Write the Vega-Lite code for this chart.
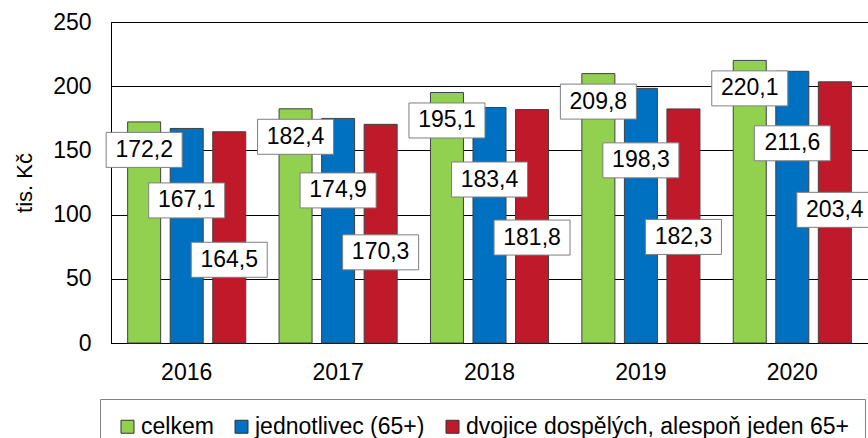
{
  "$schema": "https://vega.github.io/schema/vega-lite/v6.json",
  "autosize": {"type": "none"},
  "width": 757,
  "height": 321,
  "padding": {"left": 111, "top": 22, "right": 0, "bottom": 95},
  "config": {
    "font": "Liberation Sans",
    "locale": {"number": {"decimal": ",", "thousands": " ", "grouping": [3], "currency": ["", " Kč"]}},
    "view": {"stroke": "black", "strokeWidth": 1},
    "axis": {"labelFont": "Liberation Sans", "titleFont": "Liberation Sans", "labelColor": "black", "titleColor": "black"}
  },
  "data": {
    "values": [
      {"year": "2016", "series": "celkem", "value": 172.2},
      {"year": "2016", "series": "jednotlivec (65+)", "value": 167.1},
      {"year": "2016", "series": "dvojice dospělých, alespoň jeden 65+", "value": 164.5},
      {"year": "2017", "series": "celkem", "value": 182.4},
      {"year": "2017", "series": "jednotlivec (65+)", "value": 174.9},
      {"year": "2017", "series": "dvojice dospělých, alespoň jeden 65+", "value": 170.3},
      {"year": "2018", "series": "celkem", "value": 195.1},
      {"year": "2018", "series": "jednotlivec (65+)", "value": 183.4},
      {"year": "2018", "series": "dvojice dospělých, alespoň jeden 65+", "value": 181.8},
      {"year": "2019", "series": "celkem", "value": 209.8},
      {"year": "2019", "series": "jednotlivec (65+)", "value": 198.3},
      {"year": "2019", "series": "dvojice dospělých, alespoň jeden 65+", "value": 182.3},
      {"year": "2020", "series": "celkem", "value": 220.1},
      {"year": "2020", "series": "jednotlivec (65+)", "value": 211.6},
      {"year": "2020", "series": "dvojice dospělých, alespoň jeden 65+", "value": 203.4}
    ]
  },
  "encoding": {
    "x": {
      "field": "year", "type": "nominal",
      "scale": {"paddingInner": 0.22, "paddingOuter": 0.11},
      "axis": {"title": null, "labelAngle": 0, "labelFontSize": 23, "ticks": false, "tickSize": 0, "labelPadding": 18, "domainColor": "black", "domainWidth": 1, "grid": false}
    },
    "xOffset": {
      "field": "series", "type": "nominal",
      "scale": {"domain": ["celkem", "jednotlivec (65+)", "dvojice dospělých, alespoň jeden 65+"], "paddingInner": 0.224, "paddingOuter": 0}
    },
    "y": {
      "field": "value", "type": "quantitative",
      "scale": {"domain": [0, 250], "nice": false},
      "axis": {"title": "tis. Kč", "titleFontSize": 22, "titleFontWeight": "normal", "titlePadding": 16, "values": [0, 50, 100, 150, 200, 250], "labelFontSize": 23, "ticks": false, "tickSize": 0, "labelPadding": 20, "domainColor": "black", "gridColor": "black", "gridWidth": 1, "gridOpacity": 1}
    }
  },
  "layer": [
    {
      "mark": {"type": "bar", "stroke": "#404040", "strokeWidth": 1},
      "encoding": {
        "color": {
          "field": "series", "type": "nominal",
          "scale": {"domain": ["celkem", "jednotlivec (65+)", "dvojice dospělých, alespoň jeden 65+"], "range": ["#92D050", "#0070C0", "#C0192A"]},
          "legend": {
            "title": null, "orient": "none", "direction": "horizontal",
            "legendX": -11, "legendY": 377,
            "padding": 16, "strokeColor": "#808080", "fillColor": "white",
            "symbolType": "square", "symbolSize": 169, "symbolStrokeColor": "#333333", "symbolStrokeWidth": 1,
            "labelFontSize": 23, "labelFont": "Liberation Sans", "labelColor": "black", "labelOffset": 2, "columnPadding": 16, "labelLimit": 600
          }
        }
      }
    },
    {
      "transform": [{"filter": "datum.series === 'celkem'"}],
      "mark": {"type": "point", "filled": true, "fill": "white", "opacity": 1, "fillOpacity": 1, "stroke": "#7f7f7f", "strokeWidth": 1, "size": 5776, "shape": "M-1,0.276L1,0.276L1,1.197L-1,1.197Z"}
    },
    {
      "transform": [{"filter": "datum.series === 'celkem'"}],
      "mark": {"type": "text", "fontSize": 23, "color": "black", "baseline": "middle", "dy": 28},
      "encoding": {"text": {"field": "value", "type": "quantitative", "format": ".1f"}}
    },
    {
      "transform": [{"filter": "datum.series === 'jednotlivec (65+)'"}],
      "mark": {"type": "point", "filled": true, "fill": "white", "opacity": 1, "fillOpacity": 1, "stroke": "#7f7f7f", "strokeWidth": 1, "size": 5776, "shape": "M-1,1.434L1,1.434L1,2.355L-1,2.355Z"}
    },
    {
      "transform": [{"filter": "datum.series === 'jednotlivec (65+)'"}],
      "mark": {"type": "text", "fontSize": 23, "color": "black", "baseline": "middle", "dy": 72},
      "encoding": {"text": {"field": "value", "type": "quantitative", "format": ".1f"}}
    },
    {
      "transform": [{"filter": "datum.series === 'dvojice dospělých, alespoň jeden 65+'"}],
      "mark": {"type": "point", "filled": true, "fill": "white", "opacity": 1, "fillOpacity": 1, "stroke": "#7f7f7f", "strokeWidth": 1, "size": 5776, "shape": "M-1,2.908L1,2.908L1,3.829L-1,3.829Z"}
    },
    {
      "transform": [{"filter": "datum.series === 'dvojice dospělých, alespoň jeden 65+'"}],
      "mark": {"type": "text", "fontSize": 23, "color": "black", "baseline": "middle", "dy": 128},
      "encoding": {"text": {"field": "value", "type": "quantitative", "format": ".1f"}}
    }
  ]
}
